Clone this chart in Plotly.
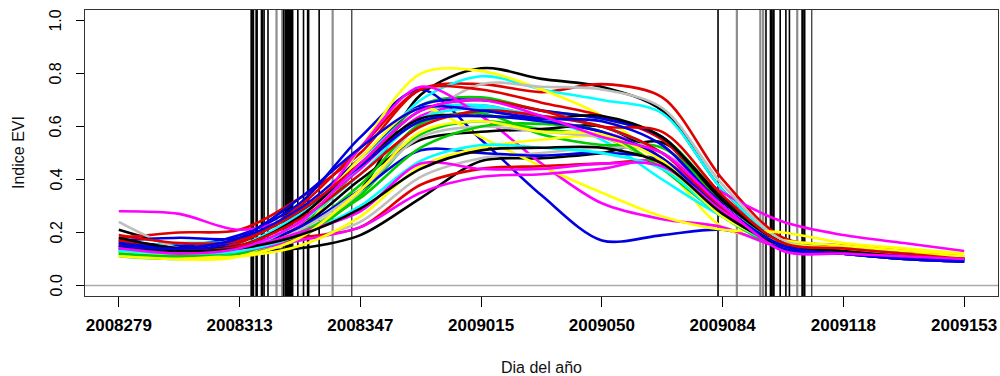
import plotly.graph_objects as go

# sample positions (days since 2008279) and tick labels
days = [0, 17, 34, 51, 68, 85, 102, 119, 136, 153, 170, 187, 204, 221, 238]
tick_days = [0, 34, 68, 102, 136, 170, 204, 238]
tick_labels = ["2008279", "2008313", "2008347", "2009015", "2009050", "2009084", "2009118", "2009153"]
y_ticks = [0.0, 0.2, 0.4, 0.6, 0.8, 1.0]
y_tick_labels = ["0.0", "0.2", "0.4", "0.6", "0.8", "1.0"]

# EVI curves
k1 = [0.21, 0.15, 0.13, 0.19, 0.36, 0.72, 0.82, 0.78, 0.75, 0.66, 0.36, 0.17, 0.14, 0.12, 0.10]
k2 = [0.14, 0.12, 0.13, 0.14, 0.19, 0.33, 0.47, 0.48, 0.50, 0.54, 0.33, 0.16, 0.13, 0.11, 0.10]
k3 = [0.16, 0.13, 0.14, 0.22, 0.40, 0.55, 0.58, 0.59, 0.60, 0.48, 0.29, 0.15, 0.13, 0.11, 0.10]
k4 = [0.18, 0.14, 0.15, 0.26, 0.46, 0.63, 0.64, 0.63, 0.64, 0.56, 0.32, 0.16, 0.13, 0.12, 0.10]
k5 = [0.15, 0.13, 0.14, 0.19, 0.29, 0.44, 0.51, 0.52, 0.52, 0.46, 0.27, 0.15, 0.13, 0.11, 0.10]

r1 = [0.18, 0.20, 0.21, 0.33, 0.50, 0.74, 0.76, 0.73, 0.76, 0.71, 0.40, 0.18, 0.15, 0.13, 0.11]
r2 = [0.16, 0.13, 0.16, 0.30, 0.52, 0.74, 0.74, 0.69, 0.64, 0.55, 0.31, 0.16, 0.13, 0.12, 0.10]
r3 = [0.17, 0.14, 0.14, 0.18, 0.22, 0.38, 0.44, 0.45, 0.46, 0.46, 0.28, 0.15, 0.13, 0.11, 0.10]
r4 = [0.15, 0.13, 0.15, 0.25, 0.42, 0.60, 0.66, 0.64, 0.60, 0.50, 0.29, 0.15, 0.13, 0.11, 0.10]
r5 = [0.19, 0.16, 0.17, 0.28, 0.46, 0.66, 0.70, 0.66, 0.60, 0.58, 0.34, 0.16, 0.14, 0.12, 0.10]

g1 = [0.11, 0.10, 0.12, 0.22, 0.45, 0.68, 0.71, 0.66, 0.63, 0.56, 0.33, 0.15, 0.13, 0.11, 0.10]
g2 = [0.12, 0.11, 0.12, 0.18, 0.34, 0.57, 0.62, 0.59, 0.56, 0.45, 0.28, 0.14, 0.12, 0.11, 0.10]
g3 = [0.13, 0.11, 0.12, 0.21, 0.38, 0.61, 0.65, 0.57, 0.53, 0.52, 0.32, 0.15, 0.13, 0.11, 0.10]
g4 = [0.12, 0.11, 0.13, 0.20, 0.33, 0.52, 0.60, 0.61, 0.58, 0.44, 0.26, 0.14, 0.12, 0.11, 0.10]

b1 = [0.17, 0.15, 0.19, 0.31, 0.56, 0.74, 0.55, 0.34, 0.17, 0.19, 0.21, 0.15, 0.13, 0.11, 0.09]
b2 = [0.17, 0.18, 0.18, 0.29, 0.48, 0.68, 0.70, 0.66, 0.63, 0.56, 0.31, 0.14, 0.12, 0.10, 0.09]
b3 = [0.16, 0.14, 0.15, 0.22, 0.36, 0.51, 0.50, 0.49, 0.50, 0.47, 0.28, 0.14, 0.12, 0.10, 0.09]
b4 = [0.14, 0.13, 0.17, 0.28, 0.45, 0.62, 0.64, 0.62, 0.58, 0.48, 0.28, 0.14, 0.12, 0.10, 0.09]
b5 = [0.15, 0.14, 0.18, 0.33, 0.52, 0.67, 0.66, 0.63, 0.62, 0.53, 0.30, 0.15, 0.12, 0.11, 0.09]

c1 = [0.14, 0.16, 0.17, 0.28, 0.46, 0.70, 0.79, 0.74, 0.70, 0.65, 0.36, 0.17, 0.14, 0.12, 0.10]
c2 = [0.13, 0.12, 0.15, 0.27, 0.45, 0.66, 0.68, 0.63, 0.55, 0.40, 0.26, 0.16, 0.14, 0.12, 0.10]
c3 = [0.12, 0.11, 0.13, 0.24, 0.42, 0.63, 0.67, 0.64, 0.60, 0.50, 0.30, 0.15, 0.13, 0.11, 0.10]
c4 = [0.13, 0.12, 0.13, 0.19, 0.30, 0.47, 0.53, 0.52, 0.50, 0.44, 0.26, 0.15, 0.13, 0.11, 0.10]

m1 = [0.28, 0.27, 0.21, 0.27, 0.44, 0.64, 0.68, 0.63, 0.58, 0.50, 0.35, 0.24, 0.19, 0.16, 0.13]
m2 = [0.13, 0.12, 0.13, 0.23, 0.52, 0.75, 0.64, 0.46, 0.31, 0.25, 0.22, 0.14, 0.12, 0.11, 0.10]
m3 = [0.14, 0.12, 0.13, 0.17, 0.22, 0.35, 0.41, 0.42, 0.44, 0.47, 0.29, 0.14, 0.12, 0.11, 0.10]
m4 = [0.15, 0.13, 0.14, 0.20, 0.28, 0.46, 0.44, 0.44, 0.46, 0.45, 0.28, 0.15, 0.13, 0.11, 0.10]
m5 = [0.14, 0.12, 0.14, 0.24, 0.46, 0.66, 0.70, 0.64, 0.56, 0.50, 0.30, 0.13, 0.12, 0.11, 0.10]

y1 = [0.12, 0.10, 0.11, 0.20, 0.52, 0.80, 0.81, 0.74, 0.64, 0.46, 0.22, 0.17, 0.15, 0.13, 0.12]
y2 = [0.12, 0.10, 0.11, 0.24, 0.48, 0.67, 0.56, 0.45, 0.35, 0.26, 0.21, 0.20, 0.16, 0.14, 0.12]
y3 = [0.13, 0.11, 0.11, 0.15, 0.26, 0.45, 0.52, 0.55, 0.56, 0.45, 0.26, 0.15, 0.13, 0.12, 0.11]
y4 = [0.11, 0.10, 0.11, 0.18, 0.36, 0.58, 0.62, 0.58, 0.57, 0.47, 0.26, 0.16, 0.14, 0.12, 0.11]

gr1 = [0.24, 0.14, 0.13, 0.20, 0.35, 0.62, 0.76, 0.75, 0.74, 0.67, 0.38, 0.17, 0.14, 0.12, 0.10]
gr2 = [0.15, 0.12, 0.13, 0.17, 0.24, 0.41, 0.48, 0.50, 0.52, 0.50, 0.30, 0.15, 0.13, 0.11, 0.10]
gr3 = [0.14, 0.12, 0.13, 0.21, 0.36, 0.56, 0.60, 0.58, 0.56, 0.50, 0.30, 0.15, 0.13, 0.11, 0.10]

# phenology dates marked with vertical lines (days since 2008279)
vlines_black_wide = [37.4, 38.8, 40.3, 47.0, 47.6, 48.2, 48.8, 53.3, 183.6, 184.3, 192.5]
vlines_black = [37.9, 40.9, 42.0, 46.4, 50.4, 52.0, 56.4, 168.7, 182.2, 186.2, 187.8, 188.8, 193.1]
vlines_black_thin = [65.6, 195.1]
vlines_gray = [44.4, 46.0, 60.2, 174.0, 180.6, 181.4, 191.0]

palette = {"black": "#000000", "red": "#E00000", "green": "#00CD00", "blue": "#0000E0",
           "cyan": "#00FFFF", "magenta": "#FF00FF", "yellow": "#FFFF00", "gray": "#BEBEBE"}

series = [
    (k1, "black"), (r1, "red"), (g1, "green"), (b1, "blue"), (c1, "cyan"), (m1, "magenta"), (y1, "yellow"), (gr1, "gray"),
    (k2, "black"), (r2, "red"), (g2, "green"), (b2, "blue"), (c2, "cyan"), (m2, "magenta"), (y2, "yellow"), (gr2, "gray"),
    (k3, "black"), (r3, "red"), (g3, "green"), (b3, "blue"), (c3, "cyan"), (m3, "magenta"), (y3, "yellow"), (gr3, "gray"),
    (k4, "black"), (r4, "red"), (g4, "green"), (b4, "blue"), (c4, "cyan"), (m4, "magenta"), (y4, "yellow"),
    (k5, "black"), (r5, "red"), (b5, "blue"), (m5, "magenta"),
]

fig = go.Figure()
for vals, col in series:
    fig.add_trace(go.Scatter(x=days, y=vals, mode="lines",
                             line=dict(color=palette[col], width=2.6, shape="spline", smoothing=0.9),
                             hoverinfo="skip"))

shapes = []
shapes.append(dict(type="line", xref="paper", yref="y", x0=0, x1=1, y0=0, y1=0,
                   line=dict(color="#AAAAAA", width=1.5), layer="below"))
for v in vlines_gray:
    shapes.append(dict(type="line", xref="x", yref="paper", x0=v, x1=v, y0=0, y1=1,
                       line=dict(color="#8C8C8C", width=2.2), layer="below"))
for v in vlines_black_wide:
    shapes.append(dict(type="line", xref="x", yref="paper", x0=v, x1=v, y0=0, y1=1,
                       line=dict(color="#000000", width=2.6), layer="below"))
for v in vlines_black:
    shapes.append(dict(type="line", xref="x", yref="paper", x0=v, x1=v, y0=0, y1=1,
                       line=dict(color="#000000", width=1.6), layer="below"))
for v in vlines_black_thin:
    shapes.append(dict(type="line", xref="x", yref="paper", x0=v, x1=v, y0=0, y1=1,
                       line=dict(color="#000000", width=1), layer="below"))

annotations = [
    dict(text="Indice EVI", xref="paper", yref="paper", x=(18 - 85) / 913, y=0.50,
         textangle=-90, showarrow=False, xanchor="center", yanchor="middle",
         font=dict(size=16, color="#111")),
    dict(text="Dia del año", xref="paper", yref="paper", x=0.5, y=(296 - 367) / 286,
         showarrow=False, xanchor="center", yanchor="middle",
         font=dict(size=16, color="#111")),
]
# rotated y tick labels (R style, parallel to axis)
for v, lab in zip(y_ticks, y_tick_labels):
    annotations.append(dict(text=lab, xref="paper", yref="y", x=(56 - 85) / 913, y=v,
                            textangle=-90, showarrow=False, xanchor="center", yanchor="middle",
                            font=dict(size=16, color="#000")))

fig.update_layout(
    width=1000, height=376,
    margin=dict(l=85, r=2, t=10, b=80),
    plot_bgcolor="white", paper_bgcolor="white",
    showlegend=False,
    font=dict(family="Liberation Sans, Arial, sans-serif", color="#000"),
    shapes=shapes,
    xaxis=dict(range=[-9.52, 247.52], tickmode="array", tickvals=tick_days, ticktext=tick_labels,
               ticks="outside", ticklen=10, tickwidth=1, tickcolor="#000",
               showline=True, mirror=True, linecolor="#333", linewidth=1,
               showgrid=False, zeroline=False, ticklabelstandoff=4,
               tickfont=dict(size=17, color="#000", weight="bold")),
    yaxis=dict(range=[-0.04, 1.04], tickmode="array", tickvals=y_ticks,
               showticklabels=False,
               ticks="outside", ticklen=8, tickwidth=1, tickcolor="#000",
               showline=True, mirror=True, linecolor="#333", linewidth=1,
               showgrid=False, zeroline=False),
    annotations=annotations,
)

fig.write_html("out.html")
